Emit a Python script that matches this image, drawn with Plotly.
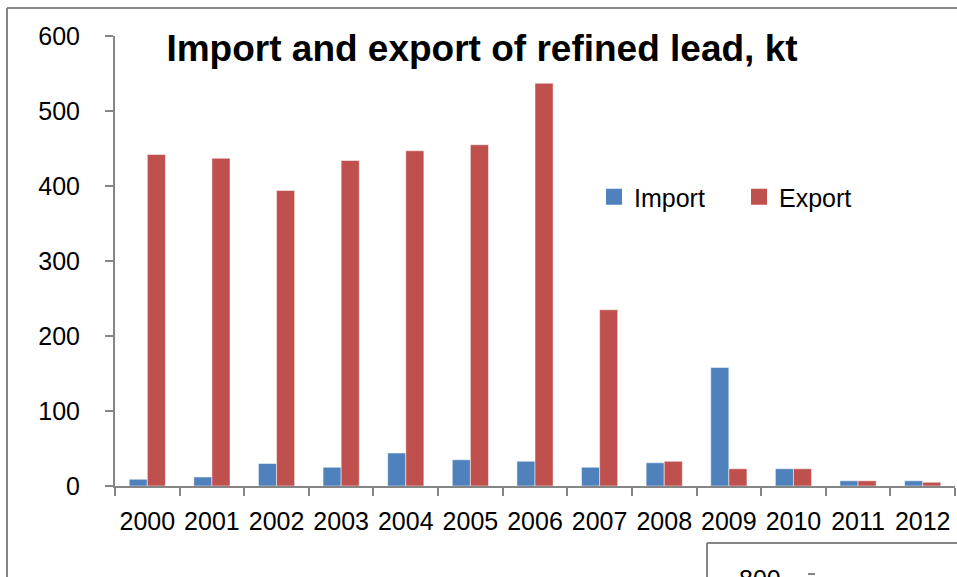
import plotly.graph_objects as go

years = ["2000", "2001", "2002", "2003", "2004", "2005", "2006",
         "2007", "2008", "2009", "2010", "2011", "2012"]
import_kt = [9, 12, 30, 25, 44, 35, 33, 25, 31, 158, 23, 7, 7]
export_kt = [442, 437, 394, 434, 447, 455, 537, 235, 33, 23, 23, 7, 5]
series_names = ["Import", "Export"]
series_colors = ["#4F81BD", "#C0504D"]

W, H = 957, 577
L, R, T, B = 115, 2, 36, 91
PW, PH = W - L - R, H - T - B


def px_x(x):
    return (x - L) / PW


def px_y(y):
    return (H - B - y) / PH


fig = go.Figure()
for name, vals, col in zip(series_names, [import_kt, export_kt], series_colors):
    fig.add_trace(go.Bar(x=years, y=vals, name=name, showlegend=False,
                         marker=dict(color=col, line=dict(color="#ffffff", width=0.5))))
# legend entries (square swatches)
for name, col in zip(series_names, series_colors):
    fig.add_trace(go.Scatter(x=[None], y=[None], mode="markers", name=name,
                             marker=dict(symbol="square", size=16, color=col)))

fig.update_layout(
    width=W, height=H,
    margin=dict(l=L, r=R, t=T, b=B, pad=0, autoexpand=False),
    paper_bgcolor="white", plot_bgcolor="white",
    barmode="group", bargap=0.44, bargroupgap=0,
    font=dict(family="Liberation Sans, Arial, sans-serif", color="black", size=25),
    title=dict(text="<b>Import and export of refined lead, kt</b>",
               x=482 / W, xanchor="center", y=1 - 48 / H, yanchor="middle",
               font=dict(size=37, family="Liberation Sans, Arial, sans-serif", color="black")),
    showlegend=True,
    legend=dict(orientation="h", x=px_x(594), xanchor="left",
                y=px_y(197), yanchor="middle",
                font=dict(size=25), bgcolor="rgba(0,0,0,0)",
                entrywidth=100, entrywidthmode="pixels", itemclick=False),
    xaxis=dict(type="category", showline=True, linecolor="#868686", linewidth=2,
               ticks="outside", ticklen=8, tickcolor="#868686", tickwidth=2,
               tickson="boundaries", showgrid=False, zeroline=False, tickangle=0,
               automargin=False, tickfont=dict(size=25), ticklabelstandoff=12),
    yaxis=dict(range=[0, 600], dtick=100, showline=True, linecolor="#868686", linewidth=2,
               ticks="outside", ticklen=8, tickcolor="#868686", tickwidth=2,
               showgrid=False, zeroline=False, automargin=False, tickfont=dict(size=25),
               ticklabelstandoff=20),
)

line_style = dict(color="#868686", width=2)
# outer chart frame (partially visible Excel chart border)
fig.add_shape(type="line", xref="paper", yref="paper",
              x0=px_x(7), x1=px_x(7), y0=px_y(8), y1=px_y(H + 5), line=line_style)
fig.add_shape(type="line", xref="paper", yref="paper",
              x0=px_x(7), x1=px_x(W + 5), y0=px_y(8), y1=px_y(8), line=line_style)
# next chart box peeking in at bottom right
fig.add_shape(type="line", xref="paper", yref="paper",
              x0=px_x(707), x1=px_x(707), y0=px_y(543), y1=px_y(H + 5), line=line_style)
fig.add_shape(type="line", xref="paper", yref="paper",
              x0=px_x(707), x1=px_x(W + 5), y0=px_y(543), y1=px_y(543), line=line_style)
fig.add_annotation(xref="paper", yref="paper", x=px_x(760), y=px_y(563),
                   xanchor="center", yanchor="top", text="800", showarrow=False,
                   font=dict(size=25, color="black"))
fig.add_shape(type="line", xref="paper", yref="paper",
              x0=px_x(808), x1=px_x(815), y0=px_y(574), y1=px_y(574), line=line_style)

fig.write_html("out.html",
               config={"displayModeBar": False},
               post_script="document.body.style.margin='0';"
                           "document.body.style.overflow='hidden';")
